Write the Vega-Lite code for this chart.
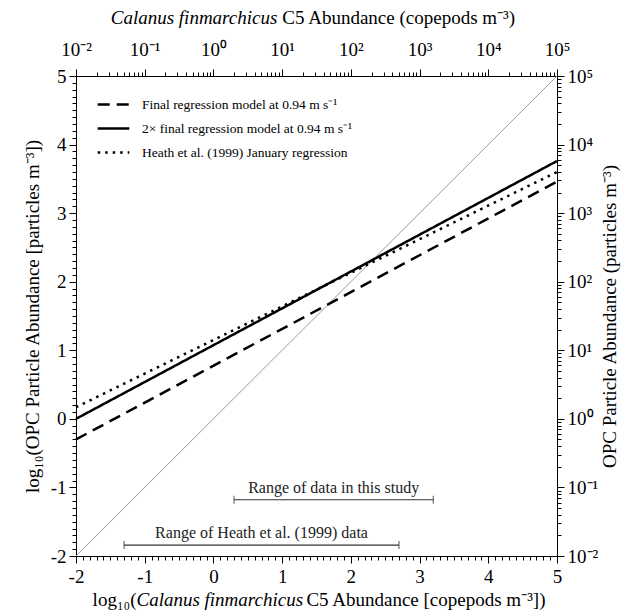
{
  "$schema": "https://vega.github.io/schema/vega-lite/v6.json",
  "width": 481,
  "height": 480,
  "autosize": {"type": "none"},
  "padding": {"left": 76, "top": 76, "right": 70, "bottom": 59},
  "background": "white",
  "config": {
    "font": "Liberation Serif",
    "view": {"stroke": "black", "strokeWidth": 1},
    "axis": {
      "grid": false,
      "domainColor": "black",
      "tickColor": "black",
      "labelColor": "black",
      "titleColor": "black",
      "labelFont": "Liberation Serif",
      "titleFont": "Liberation Serif",
      "labelFontSize": 19,
      "titleFontSize": 19,
      "titleFontWeight": "normal",
      "labelFlush": false,
      "labelOverlap": false,
      "tickSize": 7,
      "labelPadding": 3
    },
    "legend": {
      "orient": "none",
      "legendX": 20,
      "legendY": 11,
      "title": null,
      "symbolType": "stroke",
      "symbolSize": 1000,
      "symbolStrokeWidth": 2.5,
      "symbolStrokeColor": "black",
      "labelFont": "Liberation Serif",
      "labelFontSize": 13.5,
      "labelColor": "black",
      "labelLimit": 0,
      "rowPadding": -8,
      "labelOffset": 11
    }
  },
  "datasets": {
    "identity": [
      {"c5": -2, "opc": -2},
      {"c5": 5, "opc": 5}
    ],
    "models": [
      {"model": "Final regression model at 0.94 m s⁻¹", "c5": -2, "opc": -0.30},
      {"model": "Final regression model at 0.94 m s⁻¹", "c5": 5, "opc": 3.46},
      {"model": "2× final regression model at 0.94 m s⁻¹", "c5": -2, "opc": 0.0},
      {"model": "2× final regression model at 0.94 m s⁻¹", "c5": 5, "opc": 3.76},
      {"model": "Heath et al. (1999) January regression", "c5": -2, "opc": 0.17},
      {"model": "Heath et al. (1999) January regression", "c5": 5, "opc": 3.60}
    ],
    "ranges": [
      {"label": "Range of data in this study", "lo": 0.3, "hi": 3.2, "opc": -1.18},
      {"label": "Range of Heath et al. (1999) data", "lo": -1.3, "hi": 2.7, "opc": -1.84}
    ]
  },
  "resolve": {"axis": {"x": "independent", "y": "independent"}},
  "layer": [
    {
      "data": {"name": "identity"},
      "mark": {"type": "line", "color": "#9a9a9a", "strokeWidth": 1},
      "encoding": {
        "x": {
          "field": "c5", "type": "quantitative",
          "scale": {"domain": [-2, 5], "nice": false, "zero": false},
          "axis": {
            "orient": "bottom", "title": null,
            "values": [-2, -1, 0, 1, 2, 3, 4, 5],
            "labelExpr": "'' + datum.value", "labelPadding": 4
          }
        },
        "y": {
          "field": "opc", "type": "quantitative",
          "scale": {"domain": [-2, 5], "nice": false, "zero": false},
          "axis": {
            "orient": "left",
            "title": "log₁₀(OPC Particle Abundance [particles m⁻³])",
            "values": [-2, -1, 0, 1, 2, 3, 4, 5],
            "labelExpr": "'' + datum.value",
            "titlePadding": 8
          }
        }
      }
    },
    {
      "data": {"name": "models"},
      "mark": {"type": "line", "color": "black", "strokeWidth": 2.5},
      "encoding": {
        "x": {
          "field": "c5", "type": "quantitative",
          "scale": {"domain": [-2, 5], "nice": false, "zero": false},
          "axis": {
            "orient": "bottom", "title": null, "labels": false, "domain": false, "tickSize": 4,
            "values": [-1.9,-1.8,-1.7,-1.6,-1.5,-1.4,-1.3,-1.2,-1.1,-0.9,-0.8,-0.7,-0.6,-0.5,-0.4,-0.3,-0.2,-0.1,0.1,0.2,0.3,0.4,0.5,0.6,0.7,0.8,0.9,1.1,1.2,1.3,1.4,1.5,1.6,1.7,1.8,1.9,2.1,2.2,2.3,2.4,2.5,2.6,2.7,2.8,2.9,3.1,3.2,3.3,3.4,3.5,3.6,3.7,3.8,3.9,4.1,4.2,4.3,4.4,4.5,4.6,4.7,4.8,4.9]
          }
        },
        "y": {
          "field": "opc", "type": "quantitative",
          "scale": {"domain": [-2, 5], "nice": false, "zero": false},
          "axis": {
            "orient": "left", "title": null, "labels": false, "domain": false, "tickSize": 4,
            "values": [-1.9,-1.8,-1.7,-1.6,-1.5,-1.4,-1.3,-1.2,-1.1,-0.9,-0.8,-0.7,-0.6,-0.5,-0.4,-0.3,-0.2,-0.1,0.1,0.2,0.3,0.4,0.5,0.6,0.7,0.8,0.9,1.1,1.2,1.3,1.4,1.5,1.6,1.7,1.8,1.9,2.1,2.2,2.3,2.4,2.5,2.6,2.7,2.8,2.9,3.1,3.2,3.3,3.4,3.5,3.6,3.7,3.8,3.9,4.1,4.2,4.3,4.4,4.5,4.6,4.7,4.8,4.9]
          }
        },
        "strokeDash": {
          "field": "model", "type": "nominal",
          "scale": {
            "domain": [
              "Final regression model at 0.94 m s⁻¹",
              "2× final regression model at 0.94 m s⁻¹",
              "Heath et al. (1999) January regression"
            ],
            "range": [[12, 7], [1, 0], [2.5, 5]]
          }
        }
      }
    },
    {
      "data": {"name": "ranges"},
      "mark": {"type": "rule", "color": "#333333", "strokeWidth": 1.2},
      "encoding": {
        "x": {
          "field": "lo", "type": "quantitative",
          "scale": {"domain": [-2, 5], "nice": false, "zero": false},
          "axis": {
            "orient": "top", "title": null,
            "values": [-2, -1, 0, 1, 2, 3, 4, 5],
            "labelPadding": 10,
            "labelExpr": "['10⁻²','10⁻¹','10⁰','10¹','10²','10³','10⁴','10⁵'][datum.value + 2]"
          }
        },
        "x2": {"field": "hi"},
        "y": {
          "field": "opc", "type": "quantitative",
          "scale": {"domain": [-2, 5], "nice": false, "zero": false},
          "axis": {
            "orient": "right",
            "title": "OPC Particle Abundance (particles m⁻³)",
            "titleAngle": 270,
            "titlePadding": 22,
            "values": [-2, -1, 0, 1, 2, 3, 4, 5],
            "labelExpr": "['10⁻²','10⁻¹','10⁰','10¹','10²','10³','10⁴','10⁵'][datum.value + 2]"
          }
        }
      }
    },
    {
      "data": {"name": "ranges"},
      "transform": [{"fold": ["lo", "hi"], "as": ["end", "c5"]}],
      "mark": {"type": "tick", "orient": "vertical", "color": "#333333", "size": 8, "thickness": 1.2},
      "encoding": {
        "x": {
          "field": "c5", "type": "quantitative",
          "scale": {"domain": [-2, 5], "nice": false, "zero": false},
          "axis": {
            "orient": "top", "title": null, "labels": false, "domain": false, "tickSize": 4,
            "values": [-1.69897,-1.52288,-1.39794,-1.30103,-1.22185,-1.1549,-1.09691,-1.04576,-0.69897,-0.52288,-0.39794,-0.30103,-0.22185,-0.1549,-0.09691,-0.04576,0.30103,0.47712,0.60206,0.69897,0.77815,0.8451,0.90309,0.95424,1.30103,1.47712,1.60206,1.69897,1.77815,1.8451,1.90309,1.95424,2.30103,2.47712,2.60206,2.69897,2.77815,2.8451,2.90309,2.95424,3.30103,3.47712,3.60206,3.69897,3.77815,3.8451,3.90309,3.95424,4.30103,4.47712,4.60206,4.69897,4.77815,4.8451,4.90309,4.95424]
          }
        },
        "y": {
          "field": "opc", "type": "quantitative",
          "scale": {"domain": [-2, 5], "nice": false, "zero": false},
          "axis": {
            "orient": "right", "title": null, "labels": false, "domain": false, "tickSize": 4,
            "values": [-1.69897,-1.52288,-1.39794,-1.30103,-1.22185,-1.1549,-1.09691,-1.04576,-0.69897,-0.52288,-0.39794,-0.30103,-0.22185,-0.1549,-0.09691,-0.04576,0.30103,0.47712,0.60206,0.69897,0.77815,0.8451,0.90309,0.95424,1.30103,1.47712,1.60206,1.69897,1.77815,1.8451,1.90309,1.95424,2.30103,2.47712,2.60206,2.69897,2.77815,2.8451,2.90309,2.95424,3.30103,3.47712,3.60206,3.69897,3.77815,3.8451,3.90309,3.95424,4.30103,4.47712,4.60206,4.69897,4.77815,4.8451,4.90309,4.95424]
          }
        }
      }
    },
    {
      "data": {"name": "ranges"},
      "transform": [{"calculate": "(datum.lo + datum.hi) / 2", "as": "mid"}],
      "mark": {"type": "text", "font": "Liberation Serif", "fontSize": 16, "color": "#222222", "baseline": "bottom", "dy": -4},
      "encoding": {
        "x": {"field": "mid", "type": "quantitative", "axis": null},
        "y": {"field": "opc", "type": "quantitative", "axis": null},
        "text": {"field": "label"}
      }
    },
    {
      "data": {"values": [{}]},
      "mark": {"type": "text", "font": "Liberation Serif", "fontSize": 19, "fontStyle": "italic", "align": "right", "baseline": "middle", "dy": -58, "color": "black"},
      "encoding": {
        "x": {"datum": 0.93, "type": "quantitative", "axis": null},
        "y": {"datum": 5, "type": "quantitative", "axis": null},
        "text": {"value": "Calanus finmarchicus"}
      }
    },
    {
      "data": {"values": [{}]},
      "mark": {"type": "text", "font": "Liberation Serif", "fontSize": 19, "align": "left", "baseline": "middle", "dy": -58, "dx": 5, "color": "black"},
      "encoding": {
        "x": {"datum": 0.93, "type": "quantitative", "axis": null},
        "y": {"datum": 5, "type": "quantitative", "axis": null},
        "text": {"value": "C5 Abundance (copepods m⁻³)"}
      }
    },
    {
      "data": {"values": [{}]},
      "mark": {"type": "text", "font": "Liberation Serif", "fontSize": 19, "align": "right", "baseline": "middle", "dy": 44, "color": "black"},
      "encoding": {
        "x": {"datum": -1.12, "type": "quantitative", "axis": null},
        "y": {"datum": -2, "type": "quantitative", "axis": null},
        "text": {"value": "log₁₀("}
      }
    },
    {
      "data": {"values": [{}]},
      "mark": {"type": "text", "font": "Liberation Serif", "fontSize": 19, "fontStyle": "italic", "align": "left", "baseline": "middle", "dy": 44, "color": "black"},
      "encoding": {
        "x": {"datum": -1.12, "type": "quantitative", "axis": null},
        "y": {"datum": -2, "type": "quantitative", "axis": null},
        "text": {"value": "Calanus finmarchicus"}
      }
    },
    {
      "data": {"values": [{}]},
      "mark": {"type": "text", "font": "Liberation Serif", "fontSize": 19, "align": "left", "baseline": "middle", "dy": 44, "dx": 5, "color": "black"},
      "encoding": {
        "x": {"datum": 1.28, "type": "quantitative", "axis": null},
        "y": {"datum": -2, "type": "quantitative", "axis": null},
        "text": {"value": "C5 Abundance [copepods m⁻³])"}
      }
    }
  ]
}
